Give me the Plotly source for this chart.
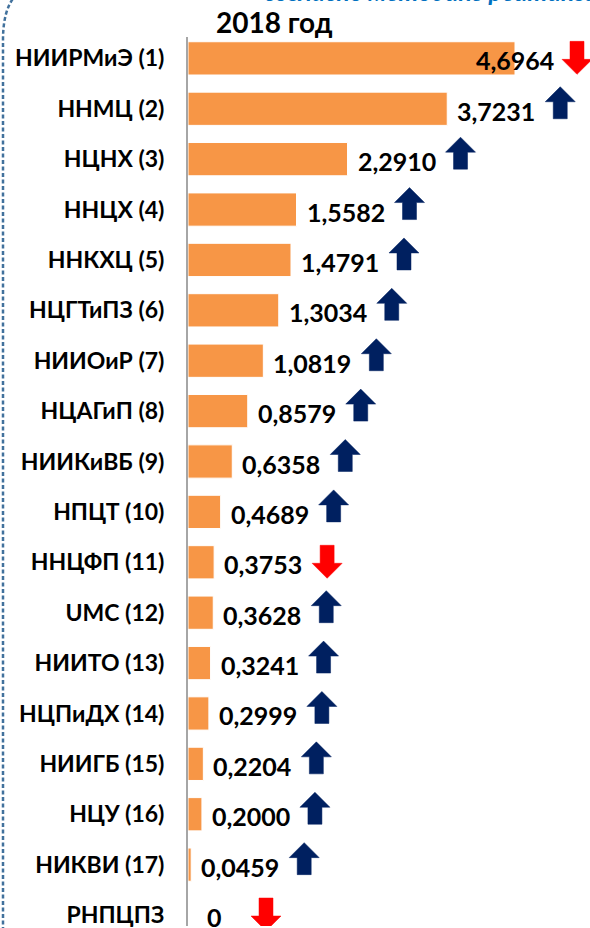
import plotly.graph_objects as go

# ---- data ----
categories = ["НИИРМиЭ (1)", "ННМЦ (2)", "НЦНХ (3)", "ННЦХ (4)", "ННКХЦ (5)", "НЦГТиПЗ (6)",
              "НИИОиР (7)", "НЦАГиП (8)", "НИИКиВБ (9)", "НПЦТ (10)", "ННЦФП (11)", "UMC (12)",
              "НИИТО (13)", "НЦПиДХ (14)", "НИИГБ (15)", "НЦУ (16)", "НИКВИ (17)", "РНПЦПЗ"]
values = [4.6964, 3.7231, 2.2910, 1.5582, 1.4791, 1.3034, 1.0819, 0.8579, 0.6358, 0.4689,
          0.3753, 0.3628, 0.3241, 0.2999, 0.2204, 0.2000, 0.0459, 0.0]
trend = ["down", "up", "up", "up", "up", "up", "up", "up", "up", "up",
         "down", "up", "up", "up", "up", "up", "up", "down"]
title_text = "2018 год"
top_text = "согласно методике рейтинга"

# ---- layout constants ----
W, H = 590, 928
AXIS_PX = 188
PX_PER_UNIT = 69.63
ROW0_PX = 58.5
ROW_STEP = 50.5
PLOT_TOP_PX = 37

ORANGE = "#F79646"
NAVY = "#002060"
RED = "#FF0000"
FONT = "Lato"

rows = list(range(len(categories)))
y_top = (PLOT_TOP_PX - ROW0_PX) / ROW_STEP
y_bot = (H - ROW0_PX) / ROW_STEP

fig = go.Figure()
fig.add_trace(go.Bar(
    x=values, y=rows, orientation="h", width=0.66,
    marker=dict(color=ORANGE, line=dict(color="white", width=1)),
    hoverinfo="skip",
))

def fmt(v):
    return "0" if v == 0 else f"{v:.4f}".replace(".", ",")

vmax = max(values)
annotations = []
shapes = []
for r, v, t in zip(rows, values, trend):
    txt = fmt(v)
    est_w = 14 * len(txt)
    if v == vmax:
        # label placed over the end of the longest bar
        annotations.append(dict(x=v, y=r, xref="x", yref="y", text=txt, showarrow=False,
                                xanchor="right", xshift=41, yshift=-2,
                                font=dict(family=FONT, size=25, color="black", weight="bold")))
        cx = 41 + 21
    else:
        shift = 8 if v > 0 else 17
        annotations.append(dict(x=v, y=r, xref="x", yref="y", text=txt, showarrow=False,
                                xanchor="left", xshift=shift, yshift=-2,
                                font=dict(family=FONT, size=25, color="black", weight="bold")))
        cx = shift + max(est_w, 40) + 21
    if t == "up":
        pts = [(-7, -10), (7, -10), (7, 7), (15, 7), (0, 22), (-15, 7), (-7, 7)]
        col = NAVY
    else:
        pts = [(-7, 17), (7, 17), (7, -1), (15, -1), (0, -16), (-15, -1), (-7, -1)]
        col = RED
    path = "M " + " L ".join(f"{cx + px},{py}" for px, py in pts) + " Z"
    shapes.append(dict(type="path", xref="x", yref="y", xsizemode="pixel", ysizemode="pixel",
                       xanchor=v, yanchor=r, path=path, fillcolor=col,
                       line=dict(color=col, width=0.5), layer="above"))

# title
annotations.append(dict(x=274 / W, y=1 - 22 / H, xref="paper", yref="paper", text=title_text,
                        showarrow=False, xanchor="center", yanchor="middle",
                        font=dict(family=FONT, size=28, color="black", weight="bold")))
# cut-off blue header text at the very top
annotations.append(dict(x=262 / W, y=1 - 8 / H, xref="paper", yref="paper", text=top_text,
                        showarrow=False, xanchor="left", yanchor="bottom",
                        font=dict(family=FONT, size=25, color="#0070C0", weight="bold", style="italic")))

# dashed rounded frame at the left
def P(x, y):
    return f"{x / W},{1 - y / H}"
frame = f"M {P(3, H + 5)} L {P(3, 40)} Q {P(3, 10)} {P(15, -4)}"
shapes.append(dict(type="path", xref="paper", yref="paper", path=frame,
                   line=dict(color="#41719C", width=2.5, dash="4px,2.5px")))

fig.update_layout(
    width=W, height=H, margin=dict(l=0, r=0, t=0, b=0),
    paper_bgcolor="white", plot_bgcolor="white", showlegend=False,
    bargap=0.34,
    xaxis=dict(domain=[AXIS_PX / W, 1], range=[0, (W - AXIS_PX) / PX_PER_UNIT],
               visible=False, fixedrange=True),
    yaxis=dict(domain=[0, 1 - PLOT_TOP_PX / H], range=[y_bot, y_top],
               tickmode="array", tickvals=rows, ticktext=categories,
               showline=True, linecolor="#A6A6A6", linewidth=2,
               ticks="", showgrid=False, zeroline=False, ticklabelstandoff=17,
               ticklabeloverflow="allow",
               tickfont=dict(family=FONT, size=23, color="black", weight="bold")),
    annotations=annotations, shapes=shapes,
)

fig.write_html("out.html", config={"displayModeBar": False},
               post_script="document.body.style.margin='0';document.body.style.overflow='hidden';")
